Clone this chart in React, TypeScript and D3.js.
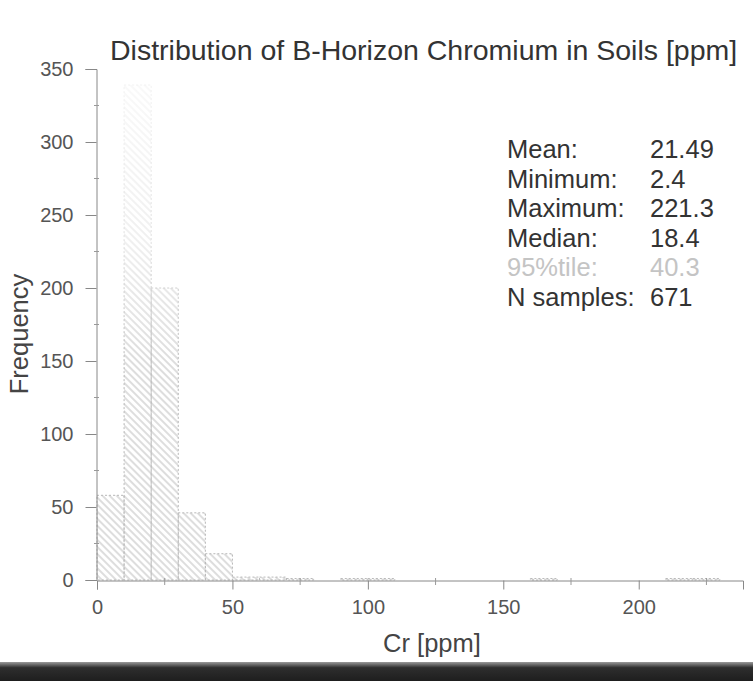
import {useEffect, useRef} from "react";
import * as d3 from "d3";

// histogram bins, 10 ppm wide, start value of each bin
const binStarts = [0, 10, 20, 30, 40, 50, 60, 70, 80, 90, 100, 110, 120, 130, 140, 150, 160, 170, 180, 190, 200, 210, 220]
const binCounts = [58, 339, 200, 46, 18, 2, 2, 1, 0, 1, 1, 0, 0, 0, 0, 0, 1, 0, 0, 0, 0, 1, 1]
const binWidth = 10

const xTicks = [0, 50, 100, 150, 200]
const xMinorTicks = [25, 75, 125, 175, 225]
const yTicks = [0, 50, 100, 150, 200, 250, 300, 350]
const yMinorTicks = [25, 75, 125, 175, 225, 275, 325]

const statLabels = ["Mean:", "Minimum:", "Maximum:", "Median:", "95%tile:", "N samples:"]
const statValues = ["21.49", "2.4", "221.3", "18.4", "40.3", "671"]

const font = "'Liberation Sans', Arial, sans-serif"

const App = () => {
    const ref = useRef<SVGSVGElement>(null)

    useEffect(() => {
        document.body.style.margin = "0"
        const svg = d3.select(ref.current)
        svg.selectAll("*").remove()

        const x = d3.scaleLinear().domain([0, 238.5]).range([97, 743])
        const y = d3.scaleLinear().domain([0, 350]).range([580, 69])

        const defs = svg.append("defs")
        const pat = defs.append("pattern")
            .attr("id", "hatch")
            .attr("patternUnits", "userSpaceOnUse")
            .attr("width", 5)
            .attr("height", 5)
            .attr("patternTransform", "rotate(-45)")
        pat.append("line")
            .attr("x1", 2).attr("y1", 0).attr("x2", 2).attr("y2", 5)
            .attr("stroke", "#b4b4b4")
            .attr("stroke-width", 0.9)

        // the scan fades out towards the top of the tall bar
        const fade = defs.append("linearGradient")
            .attr("id", "fade")
            .attr("gradientUnits", "userSpaceOnUse")
            .attr("x1", 0).attr("y1", y(350)).attr("x2", 0).attr("y2", y(150))
        fade.append("stop").attr("offset", 0).attr("stop-color", "#fff").attr("stop-opacity", 0.85)
        fade.append("stop").attr("offset", 0.6).attr("stop-color", "#fff").attr("stop-opacity", 0.55)
        fade.append("stop").attr("offset", 1).attr("stop-color", "#fff").attr("stop-opacity", 0)

        const bins = binStarts.map((s, i) => ({x0: s, count: binCounts[i]}))

        // bars
        svg.append("g")
            .selectAll("rect")
            .data(bins.filter(d => d.count > 0))
            .join("rect")
            .attr("x", d => x(d.x0))
            .attr("y", d => y(d.count))
            .attr("width", d => x(d.x0 + binWidth) - x(d.x0))
            .attr("height", d => y(0) - y(d.count))
            .attr("fill", "url(#hatch)")
            .attr("stroke", "#b8b8b8")
            .attr("stroke-dasharray", "2,2")
            .attr("stroke-width", 1)

        svg.append("rect")
            .attr("x", x(0) + 1).attr("y", y(350))
            .attr("width", x(40) - x(0)).attr("height", y(150) - y(350))
            .attr("fill", "url(#fade)")

        // y axis
        const yAxis = svg.append("g")
            .attr("transform", `translate(${x(0) - 0.5},0)`)
            .call(d3.axisLeft(y).tickValues(yTicks).tickSize(11).tickPadding(12))
        yAxis.select(".domain").attr("stroke", "#888")
        yAxis.selectAll(".tick line").attr("stroke", "#888")
        yAxis.selectAll(".tick text")
            .attr("font-family", font)
            .attr("font-size", 20)
            .attr("fill", "#555")
        svg.append("g")
            .selectAll("line")
            .data(yMinorTicks)
            .join("line")
            .attr("x1", x(0) - 3).attr("x2", x(0) + 2)
            .attr("y1", d => y(d)).attr("y2", d => y(d))
            .attr("stroke", "#999")

        // x axis
        const xAxis = svg.append("g")
            .attr("transform", `translate(0,${y(0) + 0.5})`)
            .call(d3.axisBottom(x).tickValues(xTicks).tickSize(9).tickPadding(10))
        xAxis.select(".domain").attr("stroke", "#888")
        xAxis.selectAll(".tick line").attr("stroke", "#888")
        xAxis.selectAll(".tick text")
            .attr("font-family", font)
            .attr("font-size", 20)
            .attr("fill", "#555")
        svg.append("g")
            .selectAll("line")
            .data(xMinorTicks)
            .join("line")
            .attr("x1", d => x(d)).attr("x2", d => x(d))
            .attr("y1", y(0) - 2).attr("y2", y(0) + 5)
            .attr("stroke", "#999")

        // title and axis labels
        svg.append("text")
            .attr("x", 110).attr("y", 60)
            .attr("font-family", font)
            .attr("font-size", 28.5)
            .attr("fill", "#333")
            .text("Distribution of B-Horizon Chromium in Soils [ppm]")

        svg.append("text")
            .attr("x", 432).attr("y", 652)
            .attr("text-anchor", "middle")
            .attr("font-family", font)
            .attr("font-size", 25.5)
            .attr("fill", "#444")
            .text("Cr [ppm]")

        svg.append("text")
            .attr("transform", "translate(28,334) rotate(-90)")
            .attr("text-anchor", "middle")
            .attr("font-family", font)
            .attr("font-size", 25.5)
            .attr("fill", "#444")
            .text("Frequency")

        // stats block
        const stats = svg.append("g")
        statLabels.forEach((lab, i) => {
            const col = i === 4 ? "#c4c4c4" : "#333"
            stats.append("text")
                .attr("x", 507).attr("y", 158 + i * 29.6)
                .attr("font-family", font)
                .attr("font-size", 25.5)
                .attr("fill", col)
                .text(lab)
            stats.append("text")
                .attr("x", 650).attr("y", 158 + i * 29.6)
                .attr("font-family", font)
                .attr("font-size", 25.5)
                .attr("fill", col)
                .text(statValues[i])
        })

        // dark strip at the bottom of the scan
        const grad = defs.append("linearGradient")
            .attr("id", "strip")
            .attr("x1", 0).attr("y1", 0).attr("x2", 0).attr("y2", 1)
        grad.append("stop").attr("offset", 0).attr("stop-color", "#9a9a9a")
        grad.append("stop").attr("offset", 0.3).attr("stop-color", "#2e2e2e")
        grad.append("stop").attr("offset", 1).attr("stop-color", "#1e1e1e")
        svg.append("rect")
            .attr("x", 0).attr("y", 662)
            .attr("width", 753).attr("height", 19)
            .attr("fill", "url(#strip)")
    }, [])

    return (
        <svg ref={ref} width={753} height={681} style={{display: "block", background: "#fff"}} />
    )
}

export default App
